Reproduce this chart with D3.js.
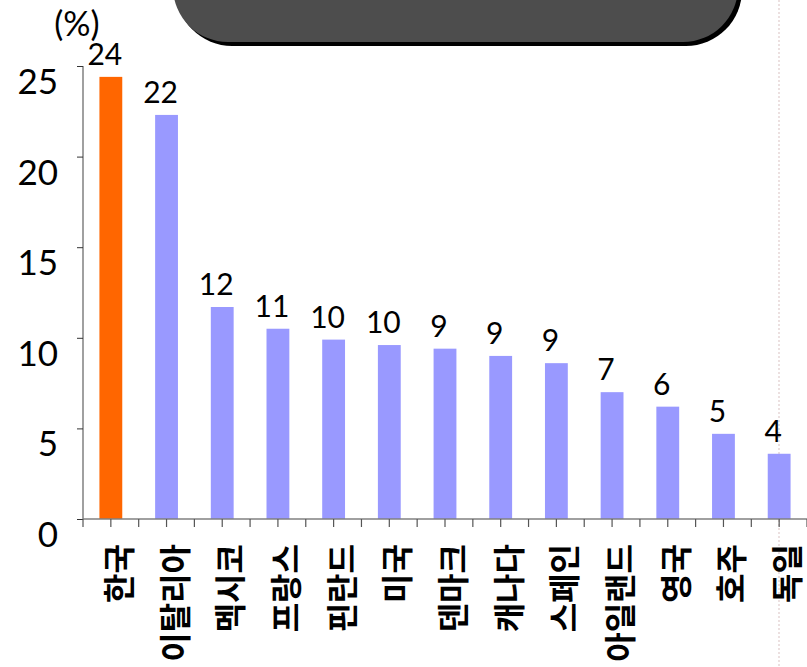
<!DOCTYPE html>
<html><head><meta charset="utf-8">
<script src="https://cdn.jsdelivr.net/npm/d3@7"></script>
<style>body{margin:0;background:#fff;}svg{display:block;}</style>
</head><body>
<svg id="c" width="807" height="667"></svg>
<script>
const categories = ["한국","이탈리아","멕시코","프랑스","핀란드","미국","덴마크","캐나다","스페인","아일랜드","영국","호주","독일"];
const values = [24.4,22.3,11.7,10.5,9.9,9.6,9.4,9.0,8.6,7.0,6.2,4.7,3.6];
const valueLabels = ["24","22","12","11","10","10","9","9","9","7","6","5","4"];
const highlight = ["한국"];
const yTicks = [0,5,10,15,20,25];
const unitLabel = "(%)";

const svg = d3.select("#c");
const x = d3.scaleBand().domain(categories).range([83, 807]).paddingInner(0).paddingOuter(0);
const y = d3.scaleLinear().domain([0,25]).range([519, 66]);
const bw = x.bandwidth()*0.41;

// top dark box
svg.append("rect").attr("x",176).attr("y",-120).attr("width",566).attr("height",166).attr("rx",56)
  .attr("fill","#000");
svg.append("rect").attr("x",173).attr("y",-120).attr("width",565).attr("height",162).attr("rx",55)
  .attr("fill","#4d4d4d");

// right dotted line
svg.append("line").attr("x1",779).attr("x2",779).attr("y1",0).attr("y2",667)
  .attr("stroke","#e6d6d6").attr("stroke-width",1.5).attr("stroke-dasharray","2,2");

// bars
svg.selectAll("rect.bar").data(categories).enter().append("rect").attr("class","bar")
  .attr("x",d=>x(d)+x.bandwidth()/2-bw/2).attr("width",bw)
  .attr("y",(d,i)=>y(values[i])).attr("height",(d,i)=>y(0)-y(values[i]))
  .attr("fill",d=>highlight.includes(d)?"#ff6600":"#9999ff");

// y axis
const yAxis = d3.axisLeft(y).tickValues(yTicks).tickSize(6).tickFormat("");
const gy = svg.append("g").attr("transform","translate(83,0)").call(yAxis);
gy.select(".domain").attr("stroke","#808080").attr("stroke-width",1.5).attr("d","M0,"+y(25)+"V"+y(0));
gy.selectAll(".tick line").attr("stroke","#333").attr("stroke-width",1);
svg.selectAll("text.ytl").data(yTicks).enter().append("text").attr("class","ytl")
  .attr("x",58).attr("y",d=>y(d)+14).attr("text-anchor","end").attr("dominant-baseline","central")
  .attr("font-family","Lato, 'Open Sans', sans-serif").attr("font-size",35).attr("fill","#000").text(d=>d);

// x axis
const halfTicks = [];
categories.forEach(c=>{halfTicks.push(x(c)); halfTicks.push(x(c)+x.bandwidth()/2);});
halfTicks.push(807);
svg.append("line").attr("x1",83).attr("x2",807).attr("y1",y(0)).attr("y2",y(0)).attr("stroke","#808080").attr("stroke-width",1.5);
svg.selectAll("line.xt").data(halfTicks).enter().append("line").attr("class","xt")
  .attr("x1",d=>d).attr("x2",d=>d).attr("y1",y(0)).attr("y2",y(0)+8).attr("stroke","#555").attr("stroke-width",1.2);

// value labels
svg.selectAll("text.vl").data(categories).enter().append("text").attr("class","vl")
  .attr("x",d=>x(d)+x.bandwidth()/2-6).attr("y",(d,i)=>y(values[i])-12)
  .attr("text-anchor","middle").attr("font-family","Lato, 'Open Sans', sans-serif").attr("font-size",30).attr("fill","#000")
  .text((d,i)=>valueLabels[i]);

// category labels
svg.selectAll("text.cl").data(categories).enter().append("text").attr("class","cl")
  .attr("transform",d=>`translate(${x(d)+x.bandwidth()/2+6},544) rotate(-90)`)
  .attr("text-anchor","end").attr("dominant-baseline","central")
  .attr("font-family","'Noto Sans CJK KR', sans-serif").attr("font-weight",700).attr("font-size",32).attr("fill","#000")
  .text(d=>d);

// unit label
svg.append("text").attr("x",77).attr("y",22).attr("text-anchor","middle").attr("dominant-baseline","central")
  .attr("font-family","Lato, 'Open Sans', sans-serif").attr("font-size",34).attr("fill","#000").text(unitLabel);
</script>
</body></html>
